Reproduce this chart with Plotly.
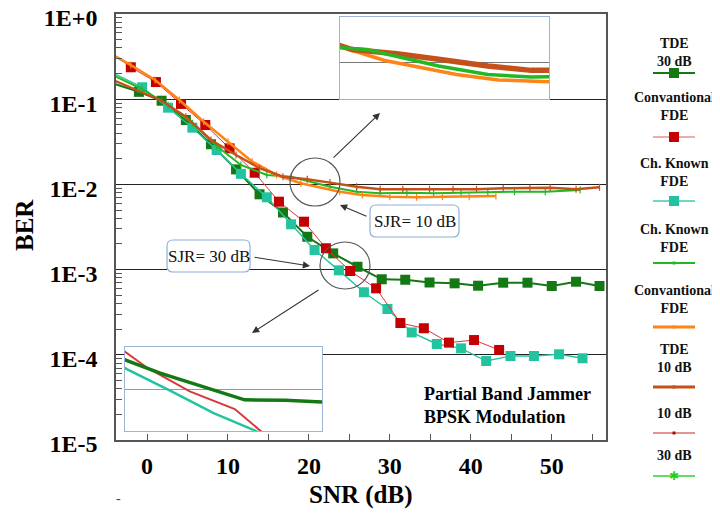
import plotly.graph_objects as go

# ---------------- data ----------------
snr_tde30 = [-4, -1, 1.8, 4.8, 7.9, 11, 13.9, 16.8, 19.8, 23, 26, 29, 31.9, 34.9, 38, 40.9, 44, 47, 50, 53, 55.9]
ber_tde30 = [0.151, 0.122, 0.096, 0.057, 0.0296, 0.0150, 0.00765, 0.00468, 0.00243, 0.00155, 0.00108,
             0.00077, 0.00076, 0.000706, 0.00069, 0.000647, 0.000702, 0.000702, 0.000642, 0.000721, 0.000642]

snr_conv30 = [-4, -2, 1.1, 4.2, 7.2, 10.2, 13.3, 16.3, 19.4, 22.1, 25.1, 28.3, 31.3, 34.2, 37.3, 40.4, 43.5]
ber_conv30 = [0.33, 0.237, 0.159, 0.088, 0.0498, 0.0265, 0.0137, 0.00627, 0.00365, 0.00178, 0.000963,
              0.000603, 0.000236, 0.000205, 0.000139, 0.000149, 0.000114]

snr_known30 = [-4, -0.6, 2.6, 5.6, 8.6, 11.6, 14.8, 17.8, 20.7, 23.7, 26.8, 29.7, 32.7, 35.8, 38.8, 41.9,
               44.9, 47.8, 50.9, 53.8]
ber_known30 = [0.198, 0.138, 0.0795, 0.0463, 0.0253, 0.0133, 0.00706, 0.0034, 0.0017, 0.00098, 0.000542,
               0.000345, 0.000183, 0.000134, 0.000119, 0.0000845, 0.0000968, 0.0000968, 0.0001014, 0.000091]

snr_known10 = [-4, -0.6, 2.6, 5.6, 8.6, 11.6, 14.8, 17.8, 22.6, 25.9, 28.8, 32.1, 35.4, 38.8, 42.1, 45.4, 49.2, 53.5]
ber_known10 = [0.187, 0.131, 0.0855, 0.0521, 0.0282, 0.0169, 0.0129, 0.0123, 0.0094, 0.0082, 0.00786,
               0.008, 0.00786, 0.008, 0.008, 0.0082, 0.0082, 0.0086]

snr_conv10 = [-4, -2, 1, 4, 7, 10, 13, 16, 19, 23.8, 26.6, 30, 33.3, 36.5, 39.8, 43.1]
ber_conv10 = [0.321, 0.252, 0.168, 0.098, 0.0545, 0.0317, 0.0185, 0.0129, 0.0103, 0.0082, 0.0075,
              0.00717, 0.00706, 0.00717, 0.00717, 0.00731]

snr_tde10 = [-4, 1.8, 4.8, 7.9, 11, 13.9, 16.8, 19.8, 22.6, 25.9, 28.8, 31.6, 34.9, 37.8, 40.7, 44, 47.3,
             49.8, 53, 55.9]
ber_tde10 = [0.165, 0.096, 0.0623, 0.0332, 0.0221, 0.0155, 0.0123, 0.0115, 0.0105, 0.0094, 0.00876,
             0.00876, 0.00876, 0.00876, 0.00876, 0.009, 0.009, 0.00915, 0.00876, 0.00925]

x_ticks = [0, 10, 20, 30, 40, 50]
x_minor = [5, 15, 25, 35, 45, 55]
y_ticks = [1, 0.1, 0.01, 0.001, 0.0001, 0.00001]
y_ticktext = ["1E+0", "1E-1", "1E-2", "1E-3", "1E-4", "1E-5"]
y_minor = [k * 10.0 ** e for e in range(-5, 0) for k in range(2, 10)]

legend_labels = ["TDE<br>30 dB", "Convantional<br>FDE", "Ch. Known<br>FDE", "Ch. Known<br>FDE",
                 "Convantional<br>FDE", "TDE<br>10 dB", "10 dB", "30 dB"]

# ---------------- styles ----------------
C_TDE30 = "#147814"
C_CONV30 = "#c40000"
C_CONV30_LINE = "#d83838"
C_KNOWN30 = "#22c4a0"
C_KNOWN10 = "#22b822"
C_CONV10 = "#ff8418"
C_TDE10 = "#c4501a"
SERIF = "Liberation Serif"

# page has an 8px body margin: the figure is drawn at (8, 8) in the 720x515 window
OFF = 8
FIG_W, FIG_H = 720 - OFF, 515 - OFF
# plot area in window pixels: x 116..606, y 14..440
L, R, T, B = 116, 606, 14, 440
def PX(x): return (x - L) / (R - L)
def PY(y): return (B - y) / (B - T)

fig = go.Figure()

# main series (30 dB, markers)
fig.add_trace(go.Scatter(x=snr_tde30, y=ber_tde30, mode="lines+markers", cliponaxis=False,
                         line=dict(color=C_TDE30, width=2),
                         marker=dict(symbol="square", size=10, color=C_TDE30), showlegend=False))
fig.add_trace(go.Scatter(x=snr_known30, y=ber_known30, mode="lines+markers", cliponaxis=False,
                         line=dict(color=C_KNOWN30, width=1.4),
                         marker=dict(symbol="square", size=10, color=C_KNOWN30), showlegend=False))
fig.add_trace(go.Scatter(x=snr_conv30, y=ber_conv30, mode="lines+markers", cliponaxis=False,
                         line=dict(color=C_CONV30_LINE, width=1),
                         marker=dict(symbol="square", size=10, color=C_CONV30), showlegend=False))
# 10 dB lines
tick_marker = dict(symbol="line-ns", size=5, line=dict(width=1.2))
fig.add_trace(go.Scatter(x=snr_known10, y=ber_known10, mode="lines+markers",
                         line=dict(color=C_KNOWN10, width=2),
                         marker=dict(tick_marker, color=C_KNOWN10, line=dict(width=1.2, color=C_KNOWN10)),
                         showlegend=False))
fig.add_trace(go.Scatter(x=snr_conv10, y=ber_conv10, mode="lines+markers",
                         line=dict(color=C_CONV10, width=2.6),
                         marker=dict(tick_marker, color=C_CONV10, line=dict(width=1.2, color=C_CONV10)),
                         showlegend=False))
fig.add_trace(go.Scatter(x=snr_tde10, y=ber_tde10, mode="lines+markers",
                         line=dict(color=C_TDE10, width=2.4),
                         marker=dict(tick_marker, color=C_TDE10, line=dict(width=1.2, color=C_TDE10)),
                         showlegend=False))

# top inset (zoom of SJR = 10 dB region)
fig.add_trace(go.Scatter(x=snr_conv10, y=ber_conv10, mode="lines", xaxis="x2", yaxis="y2",
                         line=dict(color=C_CONV10, width=3.5), showlegend=False))
fig.add_trace(go.Scatter(x=snr_tde10, y=ber_tde10, mode="lines", xaxis="x2", yaxis="y2",
                         line=dict(color=C_TDE10, width=5.5), showlegend=False))
fig.add_trace(go.Scatter(x=snr_known10, y=ber_known10, mode="lines", xaxis="x2", yaxis="y2",
                         line=dict(color=C_KNOWN10, width=3.5), showlegend=False))

# bottom inset (zoom of SJR = 30 dB region)
fig.add_trace(go.Scatter(x=snr_known30, y=ber_known30, mode="lines", xaxis="x3", yaxis="y3",
                         line=dict(color=C_KNOWN30, width=2.5), showlegend=False))
fig.add_trace(go.Scatter(x=snr_conv30, y=ber_conv30, mode="lines", xaxis="x3", yaxis="y3",
                         line=dict(color=C_CONV30_LINE, width=2), showlegend=False))
fig.add_trace(go.Scatter(x=snr_tde30, y=ber_tde30, mode="lines", xaxis="x3", yaxis="y3",
                         line=dict(color=C_TDE30, width=3.5), showlegend=False))

frame = "#555555"
inset_frame = "#9db4d4"
fig.update_layout(
    width=FIG_W, height=FIG_H,
    margin=dict(l=L - OFF, r=FIG_W - (R - OFF), t=T - OFF, b=FIG_H - (B - OFF), pad=0, autoexpand=False),
    paper_bgcolor="white", plot_bgcolor="white",
    showlegend=False,
    xaxis=dict(domain=[0, 1], range=[-3.83, 56.7], tickvals=x_ticks, ticks="inside", ticklen=6,
               tickcolor=frame, showline=True, linecolor=frame, linewidth=1.5, mirror=True,
               showgrid=False, zeroline=False, ticklabelstandoff=3, automargin=False,
               ticklabeloverflow="allow",
               tickfont=dict(family=SERIF, size=24, color="black", weight="bold"),
               minor=dict(tickvals=x_minor, ticks="inside", ticklen=6, tickcolor=frame, showgrid=False)),
    yaxis=dict(domain=[0, 1], type="log", range=[-5, 0], tickvals=y_ticks, ticktext=y_ticktext,
               ticks="", showline=True, linecolor=frame, linewidth=1.5, mirror=True, automargin=False,
               showgrid=True, gridcolor="#222222", gridwidth=1, zeroline=False, ticklabelstandoff=12,
               ticklabeloverflow="allow", ticklabelshift=4,
               tickfont=dict(family=SERIF, size=24, color="black", weight="bold"),
               minor=dict(tickvals=y_minor, ticks="inside", ticklen=6, tickcolor=frame, showgrid=False)),
    xaxis2=dict(domain=[PX(340), PX(549)], anchor="y2", range=[16, 30], showticklabels=False,
                ticks="", showgrid=False, zeroline=False, showline=True, linecolor=inset_frame,
                linewidth=1.2, mirror=True),
    yaxis2=dict(domain=[PY(99), PY(17)], anchor="x2", type="log", range=[-2.26, -1.68],
                tickvals=[0.01], showticklabels=False, ticks="", showgrid=True, gridcolor="#777777",
                gridwidth=1, zeroline=False, showline=True, linecolor=inset_frame, linewidth=1.2, mirror=True),
    xaxis3=dict(domain=[PX(125), PX(322)], anchor="y3", range=[20.5, 34.5], showticklabels=False,
                ticks="", showgrid=False, zeroline=False, showline=True, linecolor=inset_frame,
                linewidth=1.2, mirror=True),
    yaxis3=dict(domain=[PY(431), PY(347)], anchor="x3", type="log", range=[-3.47, -2.51],
                tickvals=[0.001], showticklabels=False, ticks="", showgrid=True, gridcolor="#999999",
                gridwidth=1, zeroline=False, showline=True, linecolor=inset_frame, linewidth=1.2, mirror=True),
)

shapes = []
annotations = []

# circles marking zoomed regions
for (x0, y0, x1, y1) in [(290, 158, 340, 206), (320, 242, 370, 289)]:
    shapes.append(dict(type="circle", xref="paper", yref="paper", x0=PX(x0), x1=PX(x1),
                       y0=PY(y1), y1=PY(y0), line=dict(color="#555555", width=1.2), layer="above"))

# rounded text boxes
def rounded_rect(x0, y0, x1, y1, r):
    X0, X1, Y0, Y1 = PX(x0), PX(x1), PY(y1), PY(y0)
    rx, ry = r / (R - L), r / (B - T)
    return (f"M {X0+rx},{Y0} L {X1-rx},{Y0} Q {X1},{Y0} {X1},{Y0+ry} L {X1},{Y1-ry} "
            f"Q {X1},{Y1} {X1-rx},{Y1} L {X0+rx},{Y1} Q {X0},{Y1} {X0},{Y1-ry} "
            f"L {X0},{Y0+ry} Q {X0},{Y0} {X0+rx},{Y0} Z")

for (x0, y0, x1, y1, txt) in [(370, 205, 459, 237, "SJR= 10 dB"), (167, 240, 250, 272, "SJR= 30 dB")]:
    shapes.append(dict(type="path", xref="paper", yref="paper", path=rounded_rect(x0, y0, x1, y1, 6),
                       line=dict(color="#8fb0d8", width=1.2), fillcolor="white", layer="above"))
    annotations.append(dict(xref="paper", yref="paper", x=PX((x0 + x1) / 2), y=PY((y0 + y1) / 2),
                            text=txt, showarrow=False, xanchor="center", yanchor="middle",
                            font=dict(family=SERIF, size=17, color="#111111")))

# arrows: (tail px, head px)
for (tx, ty, hx, hy) in [(332, 159, 380, 113), (368, 217, 340, 205), (253, 257, 310, 266), (320, 289, 252, 333)]:
    annotations.append(dict(xref="paper", yref="paper", x=PX(hx), y=PY(hy), axref="pixel", ayref="pixel",
                            ax=tx - hx, ay=ty - hy, text="", showarrow=True, arrowhead=2, arrowsize=1.3,
                            arrowwidth=1.1, arrowcolor="#333333", standoff=0, startstandoff=0))

# texts
annotations.append(dict(xref="paper", yref="paper", x=PX(422), y=PY(405.5), xanchor="left", yanchor="middle",
                        align="left", showarrow=False, text="Partial Band Jammer<br>BPSK Modulation",
                        font=dict(family=SERIF, size=18, color="black", weight="bold")))
annotations.append(dict(xref="paper", yref="paper", x=PX(24), y=PY(225), textangle=-90, showarrow=False,
                        text="BER", xanchor="center", yanchor="middle",
                        font=dict(family=SERIF, size=25, color="black", weight="bold")))
annotations.append(dict(xref="paper", yref="paper", x=PX(361), y=PY(495), showarrow=False,
                        text="SNR (dB)", xanchor="center", yanchor="middle",
                        font=dict(family=SERIF, size=25, color="black", weight="bold")))
annotations.append(dict(xref="paper", yref="paper", x=PX(118), y=PY(499), showarrow=False, text="-",
                        xanchor="center", yanchor="middle", font=dict(family=SERIF, size=14, color="#444444")))

# custom legend (text centred above each line sample)
leg_cx = 674
leg_text_y = [52.5, 106, 172.5, 239, 299, 358, 413, 455]
leg_sample_y = [73, 137, 201, 263, 327, 387, 433, 476]
leg_line = [(C_TDE30, 2), ("#e05a5a", 1.2), ("#40ccb0", 1.6), (C_KNOWN10, 2), (C_CONV10, 3),
            (C_TDE10, 3), ("#d87070", 1.5), ("#33cc33", 1.5)]
leg_mark = ["sq:" + C_TDE30, "sq:" + C_CONV30, "sq:" + C_KNOWN30, "dot:" + C_KNOWN10, "dot:" + C_CONV10,
            "dot:" + C_TDE10, "dot:#a01010", "star:#22cc22"]
for lab, ty, sy, (lc, lw), mk in zip(legend_labels, leg_text_y, leg_sample_y, leg_line, leg_mark):
    annotations.append(dict(xref="paper", yref="paper", x=PX(leg_cx), y=PY(ty), text=lab, showarrow=False,
                            xanchor="center", yanchor="middle", align="center",
                            font=dict(family=SERIF, size=14, color="#111111", weight="bold")))
    shapes.append(dict(type="line", xref="paper", yref="paper", x0=PX(leg_cx - 21), x1=PX(leg_cx + 21),
                       y0=PY(sy), y1=PY(sy), line=dict(color=lc, width=lw)))
    kind, col = mk.split(":")
    if kind in ("sq", "dot"):
        h = 5 if kind == "sq" else 1.5
        shapes.append(dict(type="rect", xref="paper", yref="paper", xsizemode="pixel", ysizemode="pixel",
                           xanchor=PX(leg_cx), yanchor=PY(sy), x0=-h, x1=h, y0=-h, y1=h,
                           fillcolor=col, line=dict(width=0)))
    else:
        annotations.append(dict(xref="paper", yref="paper", x=PX(leg_cx), y=PY(sy), text="✱", showarrow=False,
                                xanchor="center", yanchor="middle",
                                font=dict(family="DejaVu Sans", size=12, color=col)))

fig.update_layout(shapes=shapes, annotations=annotations)
fig.write_html("out.html")
